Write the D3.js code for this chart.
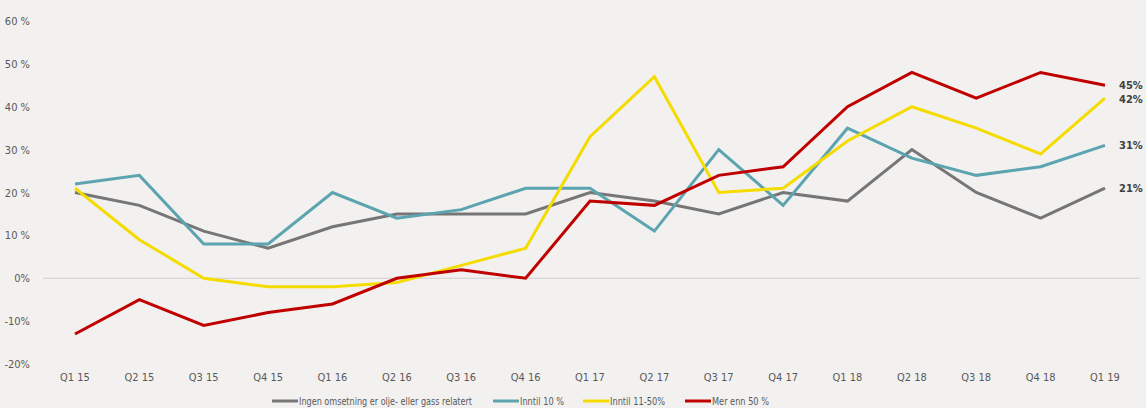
<!DOCTYPE html>
<html>
<head>
<meta charset="utf-8">
<script src="https://cdn.jsdelivr.net/npm/d3@7"></script>
<style>
  body { margin: 0; background: #f2f1f0; }
  svg { display: block; font-family: "DejaVu Sans Condensed", "DejaVu Sans", sans-serif; }
</style>
</head>
<body>
<div class="vis-linechart"></div>
<script>
const quarters = ["Q1 15","Q2 15","Q3 15","Q4 15","Q1 16","Q2 16","Q3 16","Q4 16",
  "Q1 17","Q2 17","Q3 17","Q4 17","Q1 18","Q2 18","Q3 18","Q4 18","Q1 19"]
const ingen   = [20, 17, 11, 7, 12, 15, 15, 15, 20, 18, 15, 20, 18, 30, 20, 14, 21]
const inntil10 = [22, 24, 8, 8, 20, 14, 16, 21, 21, 11, 30, 17, 35, 28, 24, 26, 31]
const inntil50 = [21, 9, 0, -2, -2, -1, 3, 7, 33, 47, 20, 21, 32, 40, 35, 29, 42]
const merEnn50 = [-13, -5, -11, -8, -6, 0, 2, 0, 18, 17, 24, 26, 40, 48, 42, 48, 45]
const yTicks = [-20, -10, 0, 10, 20, 30, 40, 50, 60]

const series = [
  { name: "Ingen omsetning er olje- eller gass relatert", values: ingen, color: "#767676" },
  { name: "Inntil 10 %", values: inntil10, color: "#5ba4b0" },
  { name: "Inntil 11-50%", values: inntil50, color: "#f5dc00" },
  { name: "Mer enn 50 %", values: merEnn50, color: "#c00000" }
]

const width = 1146
const height = 408

const svg = d3.select('.vis-linechart')
  .append('svg')
  .attr('width', width)
  .attr('height', height)

const x = d3.scalePoint()
  .domain(quarters)
  .range([75, 1105])

const y = d3.scaleLinear()
  .domain([-20, 60])
  .range([364, 21])

// y labels
const tickLabel = d => d > 0 ? d + " %" : d + "%"
svg.append('g')
  .selectAll('text')
  .data(yTicks)
  .enter()
  .append('text')
  .attr('x', 30)
  .attr('y', d => y(d) + 4)
  .attr('text-anchor', 'end')
  .style('font-size', '11px')
  .style('fill', '#595959')
  .text(tickLabel)

// zero line
svg.append('line')
  .attr('x1', 43).attr('x2', 1140)
  .attr('y1', y(0)).attr('y2', y(0))
  .style('stroke', '#d0d0d0')
  .style('stroke-width', 1)

// x labels
svg.append('g')
  .selectAll('text')
  .data(quarters)
  .enter()
  .append('text')
  .attr('x', d => x(d))
  .attr('y', 381)
  .attr('text-anchor', 'middle')
  .style('font-size', '11px')
  .style('fill', '#595959')
  .text(d => d)

const line = d3.line()
  .x((d, i) => x(quarters[i]))
  .y(d => y(d))

svg.append('g')
  .selectAll('path')
  .data(series)
  .enter()
  .append('path')
  .attr('d', d => line(d.values))
  .style('fill', 'none')
  .style('stroke', d => d.color)
  .style('stroke-width', 3)
  .style('stroke-linejoin', 'miter')

// end labels
const last = quarters.length - 1
svg.append('g')
  .selectAll('text')
  .data(series)
  .enter()
  .append('text')
  .attr('x', 1119)
  .attr('y', d => y(d.values[last]) + 4 + (d.values[last] === 42 ? 1 : 0))
  .style('font-size', '11px')
  .style('font-weight', 'bold')
  .style('fill', '#404040')
  .text(d => d.values[last] + "%")

// legend
const legendX = [272, 493, 583, 685]
const legendW = [173, 44, 55, 57]
const legend = svg.append('g')
  .selectAll('g')
  .data(series)
  .enter()
  .append('g')
  .attr('transform', (d, i) => 'translate(' + [legendX[i], 401] + ')')

legend.append('line')
  .attr('x1', 0).attr('x2', 26)
  .style('stroke', d => d.color)
  .style('stroke-width', 3)

legend.append('text')
  .attr('x', 27)
  .attr('y', 4)
  .attr('textLength', (d, i) => legendW[i])
  .attr('lengthAdjust', 'spacingAndGlyphs')
  .style('font-size', '10.5px')
  .style('fill', '#595959')
  .text(d => d.name)
</script>
</body>
</html>
